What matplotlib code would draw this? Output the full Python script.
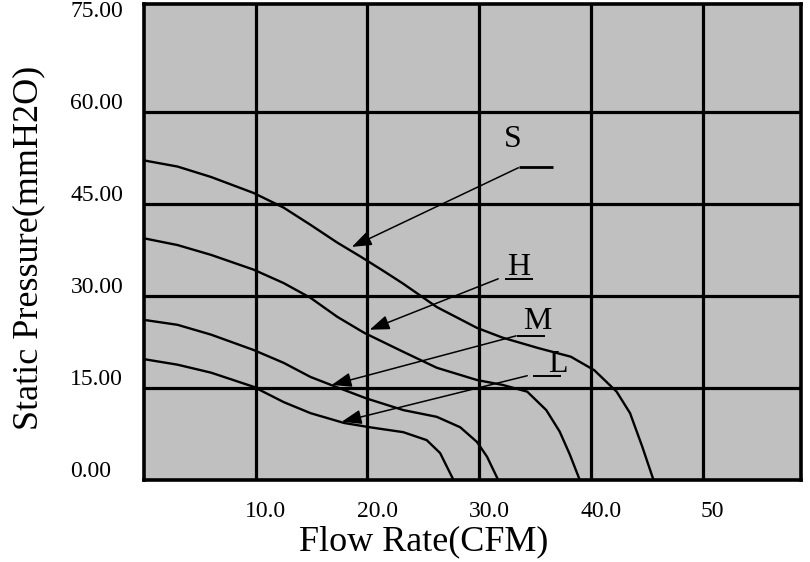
import matplotlib
matplotlib.use("Agg")
import matplotlib.pyplot as plt
from matplotlib.transforms import ScaledTranslation

plt.rcParams['font.family'] = ['Liberation Serif', 'DejaVu Serif']

# ---- data ----
S_flow = [0, 3.0, 6.0, 9.8, 12.5, 14.9, 17.3, 19.4, 21.5, 23.2, 26.2, 29.8, 32.1, 35.3, 38.2, 40.3, 42.3, 43.5, 44.6, 45.6]
S_pres = [52.1, 51.1, 49.4, 46.8, 44.4, 41.6, 38.7, 36.4, 34.0, 32.0, 28.2, 24.8, 23.2, 21.5, 20.1, 17.9, 14.4, 10.9, 5.4, 0]

H_flow = [0, 3.0, 6.0, 9.8, 12.5, 14.9, 17.3, 19.7, 23.2, 26.2, 29.8, 32.1, 34.3, 36.0, 37.2, 38.1, 39.0]
H_pres = [39.4, 38.3, 36.7, 34.3, 32.1, 29.7, 26.6, 24.0, 20.9, 18.3, 16.3, 15.5, 14.4, 11.4, 7.9, 4.2, 0]

M_flow = [0, 3.0, 6.0, 9.8, 12.5, 14.9, 17.3, 19.9, 23.2, 26.2, 28.3, 29.8, 30.7, 31.7]
M_pres = [26.1, 25.3, 23.7, 21.2, 19.1, 16.8, 15.1, 13.3, 11.4, 10.3, 8.6, 6.2, 3.8, 0]

L_flow = [0, 3.0, 6.0, 9.8, 12.5, 14.9, 17.9, 20.2, 23.2, 25.3, 26.5, 27.7]
L_pres = [19.7, 18.8, 17.5, 15.2, 12.7, 10.9, 9.3, 8.6, 7.8, 6.5, 4.4, 0]

x_ticks = [10, 20, 30, 40, 50]
x_tick_labels = ['10.0', '20.0', '30.0', '40.0', '50']
y_ticks = [0, 15, 30, 45, 60, 75]
y_tick_labels = ['0.00', '15.00', '30.00', '45.00', '60.00', '75.00']
x_grid = [10, 20, 30, 40, 50]
y_grid = [15, 30, 45, 60]

curve_names = ['S', 'H', 'M', 'L']

# ---- figure ----
fig = plt.figure(figsize=(8.1, 5.62), dpi=100)
W, H = 810, 562
ax = fig.add_axes([144 / W, 1 - 480 / H, (801 - 144) / W, (480 - 4) / H])
ax.set_facecolor('#c0c0c0')
ax.set_xlim(0, 58.8)
ax.set_ylim(0, 77.6)

for v in x_grid:
    ax.axvline(v, color='black', lw=2.3, zorder=1)
for v in y_grid:
    ax.axhline(v, color='black', lw=2.3, zorder=1)

for sp in ax.spines.values():
    sp.set_linewidth(2.6)
    sp.set_color('black')

for fx, py in [(S_flow, S_pres), (H_flow, H_pres), (M_flow, M_pres), (L_flow, L_pres)]:
    ax.plot(fx, py, color='black', lw=1.7, zorder=3, solid_capstyle='butt',
            solid_joinstyle='round')

# ticks
ax.set_xticks(x_ticks)
ax.set_xticklabels(x_tick_labels, fontsize=17)
ax.set_yticks(y_ticks)
ax.set_yticklabels(y_tick_labels, fontsize=17)
ax.tick_params(axis='both', length=0)
ax.tick_params(axis='x', pad=15)
ax.tick_params(axis='y', pad=53)
for lbl in ax.get_xticklabels():
    lbl.set_transform(lbl.get_transform() + ScaledTranslation(10 / 100, 0, fig.dpi_scale_trans))
for lbl in ax.get_yticklabels():
    lbl.set_horizontalalignment('left')
    lbl.set_verticalalignment('baseline')
    lbl.set_transform(lbl.get_transform() + ScaledTranslation(0, 3 / 100, fig.dpi_scale_trans))

# axis titles
fig.text(424 / W, 1 - 542 / H, 'Flow Rate(CFM)', fontsize=26, ha='center', va='center')
fig.text(29 / W, 1 - 248 / H, 'Static Pressure(mmH2O)', fontsize=26, ha='center', va='center', rotation=90)

# annotations: label pos, underline (x0, x1, y), arrow start, arrow tip
ann = {
    'S': ((33.0, 55.5), (33.6, 36.6, 51.1), (33.5, 50.9), (18.6, 38.0)),
    'H': ((33.5, 34.7), (32.3, 34.8, 32.8), (31.7, 32.8), (20.2, 24.5)),
    'M': ((35.2, 25.8), (33.4, 35.9, 23.5), (33.3, 23.5), (16.8, 15.5)),
    'L': ((37.0, 18.8), (34.8, 37.3, 17.0), (34.3, 17.0), (17.7, 9.5)),
}
for name in curve_names:
    (tx, ty), (u0, u1, uy), start, tip = ann[name]
    ax.text(tx, ty, name, fontsize=23, ha='center', va='center', zorder=5)
    ax.plot([u0, u1], [uy, uy], color='black', lw=2.0 if name == 'S' else 1.4, zorder=5,
            solid_capstyle='butt')
    ax.annotate('', xy=tip, xytext=start,
                arrowprops=dict(arrowstyle='-|>,head_length=0.6,head_width=0.22',
                                mutation_scale=20, lw=1.1, color='black',
                                shrinkA=0, shrinkB=0),
                zorder=6)

fig.savefig('out.png', dpi=100, facecolor='white')
